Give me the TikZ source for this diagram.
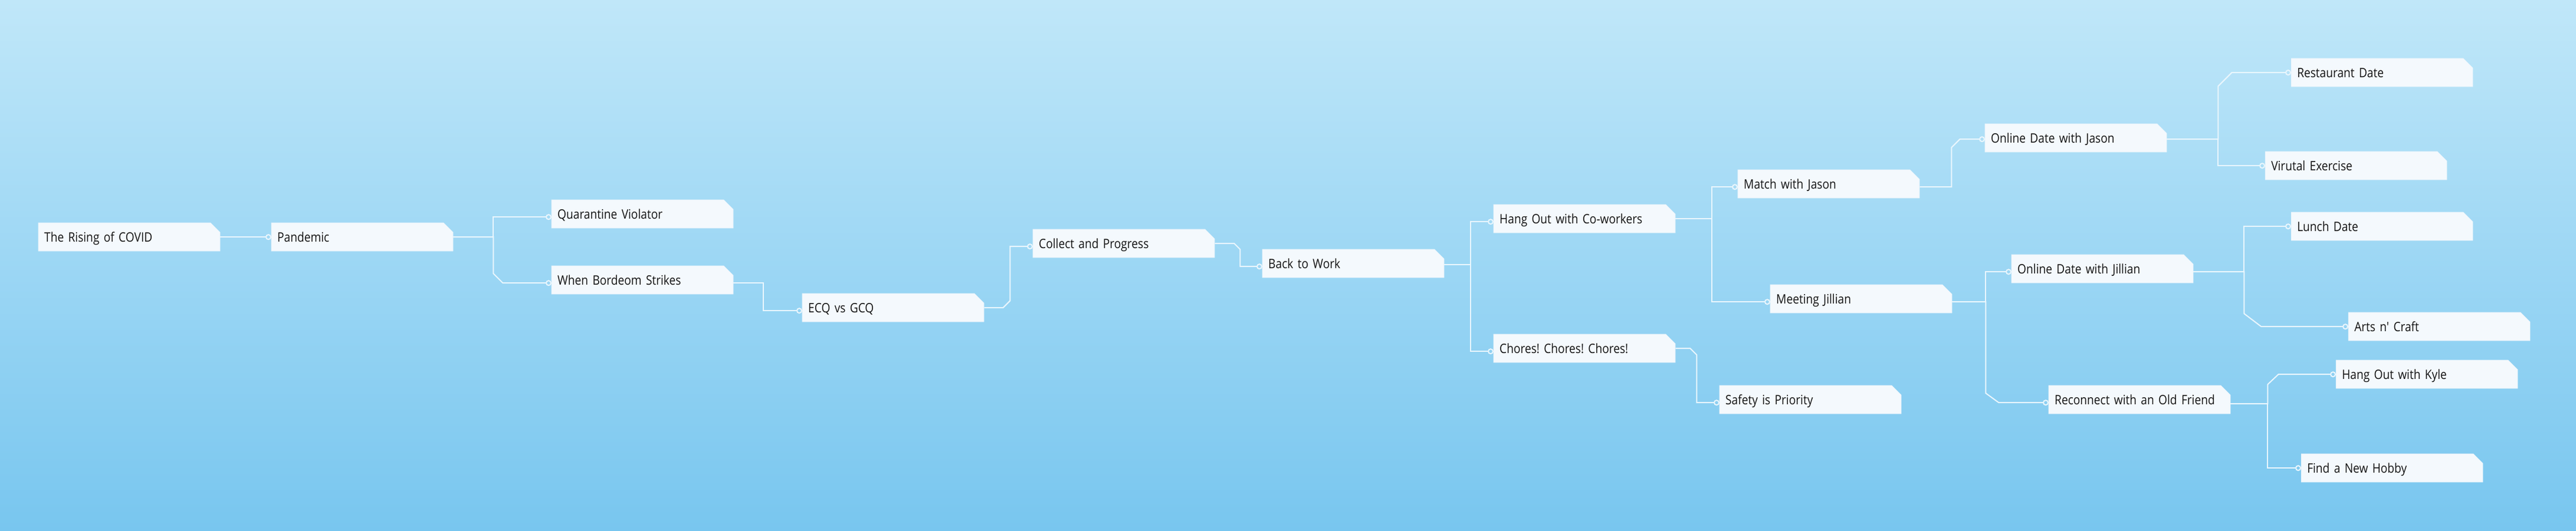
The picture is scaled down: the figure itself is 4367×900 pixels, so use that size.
\documentclass[tikz,border=0pt]{standalone}
\usepackage{fontspec}
\usepackage{tikz}
\usetikzlibrary{calc, arrows.meta}

\newfontfamily\topicfamily{Open Sans}[FakeStretch=0.87]
\frenchspacing

\definecolor{bgtop}{HTML}{C0E7F9}
\definecolor{bgbottom}{HTML}{78C6EF}
\definecolor{boxfill}{HTML}{F4F9FD}
\definecolor{boxline}{HTML}{E4F2FB}
\definecolor{linkcol}{HTML}{E9F6FD}
\definecolor{textcol}{HTML}{141414}

\tikzset{
	topic/.style={rectangle, anchor=north west, minimum width=308pt, minimum height=48pt,
		text width=288pt, inner xsep=10pt, inner ysep=0pt, text height=17pt, text depth=0pt,
		align=left, text=textcol, font=\topicfamily\fontsize{22}{26}\selectfont},
	boxshape/.style={fill=boxfill, draw=boxline, line width=0.6pt},
	link/.style={draw=linkcol, line width=2pt, -{Circle[open, length=10pt, width=10pt]}}
}

% box with the top right corner cut off, then the named node on it
\newcommand{\topicbox}[4]{%
	\path[boxshape] (#2,#3) -- ++(292,0) -- ++(16,16) -- ++(0,32) -- ++(-308,0) -- cycle;
	\node[topic] (#1) at (#2,#3) {#4};
}

\begin{document}
\begin{tikzpicture}[x=1pt, y=-1pt]
		%Background
		\useasboundingbox (0,0) rectangle (4367,900);
		\shade[top color=bgtop, bottom color=bgbottom] (0,0) rectangle (4367,900);
		
		%Nodes
		\topicbox{rising}{65}{378}{The Rising of COVID}
		\topicbox{pandemic}{460}{378}{Pandemic}
		\topicbox{quarantine}{935}{339}{Quarantine Violator}
		\topicbox{boredom}{935}{451}{When Bordeom Strikes}
		\topicbox{ecq}{1360}{498}{ECQ vs GCQ}
		\topicbox{collect}{1751}{389}{Collect and Progress}
		\topicbox{backwork}{2140}{423}{Back to Work}
		\topicbox{hangout}{2532}{347}{Hang Out with Co-workers}
		\topicbox{chores}{2532}{567}{Chores! Chores! Chores!}
		\topicbox{safety}{2915}{654}{Safety is Priority}
		\topicbox{match}{2946}{288}{Match with Jason}
		\topicbox{meeting}{3001}{483}{Meeting Jillian}
		\topicbox{onlinejason}{3365}{210}{Online Date with Jason}
		\topicbox{onlinejillian}{3410}{432}{Online Date with Jillian}
		\topicbox{reconnect}{3473}{654}{Reconnect with an Old Friend}
		\topicbox{restaurant}{3884}{99}{Restaurant Date}
		\topicbox{virtual}{3840}{257}{Virutal Exercise}
		\topicbox{lunch}{3884}{360}{Lunch Date}
		\topicbox{arts}{3981}{530}{Arts n' Craft}
		\topicbox{kyle}{3960}{611}{Hang Out with Kyle}
		\topicbox{hobby}{3901}{770}{Find a New Hobby}
		
		%Links
		\draw[link] (rising.east) -- (pandemic.west);
		\draw[link] (pandemic.east) -- ++(68,0) |- ($(quarantine.west)+(0,5)$);
		\draw[link] (pandemic.east) -- ++(68,0) -- ++(0,62) -- ++(16,16) -- ($(boredom.west)+(0,5)$);
		\draw[link] ($(boredom.east)+(0,5)$) -- ++(51,0) |- ($(ecq.west)+(0,5)$);
		\draw[link] (ecq.east) -- ++(32,0) -- ++(12,-12) |- ($(collect.west)+(0,5)$);
		\draw[link] (collect.east) -- ++(33,0) -- ++(10,10) |- ($(backwork.west)+(0,5)$);
		\draw[link] ($(backwork.east)+(0,2)$) -- ++(45,0) |- ($(hangout.west)+(0,5)$);
		\draw[link] ($(backwork.east)+(0,2)$) -- ++(45,0) |- ($(chores.west)+(0,5)$);
		\draw[link] (chores.east) -- ++(25,0) -- ++(11,11) |- ($(safety.west)+(0,5)$);
		\draw[link] (hangout.east) -- ++(62,0) |- ($(match.west)+(0,5)$);
		\draw[link] (hangout.east) -- ++(62,0) |- ($(meeting.west)+(0,5)$);
		\draw[link] ($(match.east)+(0,5)$) -- ++(54,0) -- ++(0,-67) -- ++(14,-14) -- ($(onlinejason.west)+(0,2)$);
		\draw[link] ($(onlinejason.east)+(0,2)$) -- ++(87,0) -- ++(0,-90) -- ++(23,-23) -- (restaurant.west);
		\draw[link] ($(onlinejason.east)+(0,2)$) -- ++(87,0) |- (virtual.west);
		\draw[link] ($(meeting.east)+(0,5)$) -- ++(57,0) |- ($(onlinejillian.west)+(0,5)$);
		\draw[link] ($(meeting.east)+(0,5)$) -- ++(57,0) -- ++(0,155) -- ++(22,16) -- ($(reconnect.west)+(0,5)$);
		\draw[link] ($(onlinejillian.east)+(0,5)$) -- ++(86,0) |- (lunch.west);
		\draw[link] ($(onlinejillian.east)+(0,5)$) -- ++(86,0) -- ++(0,71) -- ++(29,22) -- (arts.west);
		\draw[link] ($(reconnect.east)+(0,7)$) -- ++(63,0) -- ++(0,-33) -- ++(18,-17) -- (kyle.west);
		\draw[link] ($(reconnect.east)+(0,7)$) -- ++(63,0) |- (hobby.west);
	\end{tikzpicture}
\end{document}
